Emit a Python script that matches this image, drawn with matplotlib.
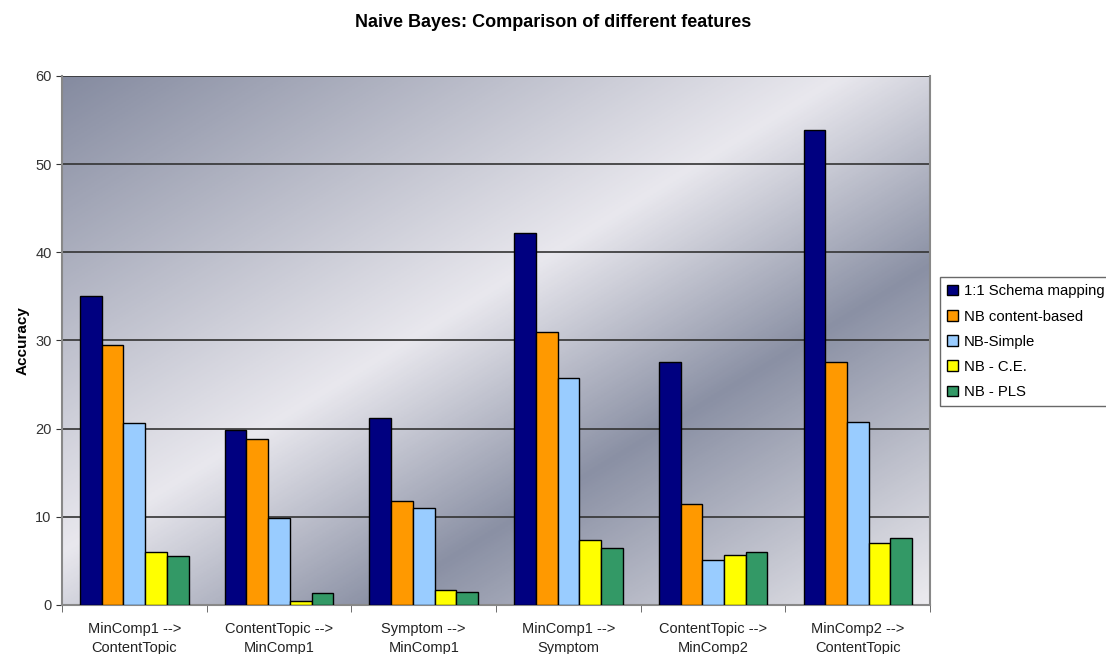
import numpy as np
import matplotlib
matplotlib.use("Agg")
from matplotlib import pyplot as plt
from matplotlib.colors import LinearSegmentedColormap

plt.rcParams['font.family'] = ['Liberation Sans', 'DejaVu Sans']

categories = ["MinComp1 -->\nContentTopic", "ContentTopic -->\nMinComp1",
              "Symptom -->\nMinComp1", "MinComp1 -->\nSymptom",
              "ContentTopic -->\nMinComp2", "MinComp2 -->\nContentTopic"]

series_names = ["1:1 Schema mapping", "NB content-based", "NB-Simple",
                "NB - C.E.", "NB - PLS"]
schema_mapping = [35.0, 19.8, 21.2, 42.2, 27.6, 53.9]
nb_content = [29.5, 18.8, 11.8, 30.9, 11.5, 27.6]
nb_simple = [20.6, 9.9, 11.0, 25.7, 5.1, 20.7]
nb_ce = [6.0, 0.5, 1.7, 7.4, 5.7, 7.0]
nb_pls = [5.6, 1.3, 1.5, 6.5, 6.0, 7.6]
colors = ["#000080", "#ff9900", "#99ccff", "#ffff00", "#339966"]

fig = plt.figure(figsize=(11.06, 6.54), dpi=100)
fig.patch.set_facecolor("white")
ax = fig.add_axes([0.056, 0.075, 0.785, 0.809])

# metallic diagonal background
cmap = LinearSegmentedColormap.from_list("metal", [
    (0.0, "#858ba0"), (0.45, "#e9e8ee"), (0.68, "#8a90a4"), (1.0, "#ecebef")])
u, v = np.meshgrid(np.linspace(0, 1, 300), np.linspace(0, 1, 300))
s = (u - v + 1) / 2
ax.imshow(s, cmap=cmap, extent=[-0.5, 5.5, 0, 60], origin="lower",
          aspect="auto", zorder=0, vmin=0, vmax=1)

x = np.arange(len(categories))
width = 0.15
data = [schema_mapping, nb_content, nb_simple, nb_ce, nb_pls]
for i, (vals, name, c) in enumerate(zip(data, series_names, colors)):
    ax.bar(x + (i - 2) * width, vals, width, color=c, edgecolor="black",
           linewidth=1, label=name, zorder=3)

ax.set_xlim(-0.5, 5.5)
ax.set_ylim(0, 60)
ax.set_yticks(range(0, 61, 10))
ax.yaxis.grid(True, color="#333333", linewidth=1.2, zorder=1)
ax.set_axisbelow(True)
ax.tick_params(axis="y", labelsize=10.5, colors="#333333", length=4)
ax.set_xticks(x)
ax.set_xticklabels(categories, fontsize=10.5, color="#222222", linespacing=1.5)
ax.tick_params(axis="x", length=0, pad=12)
ax.set_xticks(np.arange(-0.5, 5.6, 1), minor=True)
ax.tick_params(axis="x", which="minor", length=5, color="#555555")
for side in ["left", "right", "bottom"]:
    ax.spines[side].set_color("#888888")
    ax.spines[side].set_linewidth(1.5)
ax.spines["top"].set_visible(False)

ax.set_ylabel("Accuracy", fontsize=11, fontweight="bold", labelpad=4)
fig.text(0.5, 0.966, "Naive Bayes: Comparison of different features",
         ha="center", va="center", fontsize=13, fontweight="bold")

leg = fig.legend(loc="upper left", bbox_to_anchor=(940 / 1106, 1 - 277 / 654),
                 fontsize=10.7, frameon=True, fancybox=False, borderaxespad=0,
                 handlelength=0.7, handleheight=0.7, handletextpad=0.4,
                 labelspacing=0.75, borderpad=0.5)
leg.get_frame().set_edgecolor("#444444")
leg.get_frame().set_linewidth(1)

plt.savefig("out.png", dpi=100)
